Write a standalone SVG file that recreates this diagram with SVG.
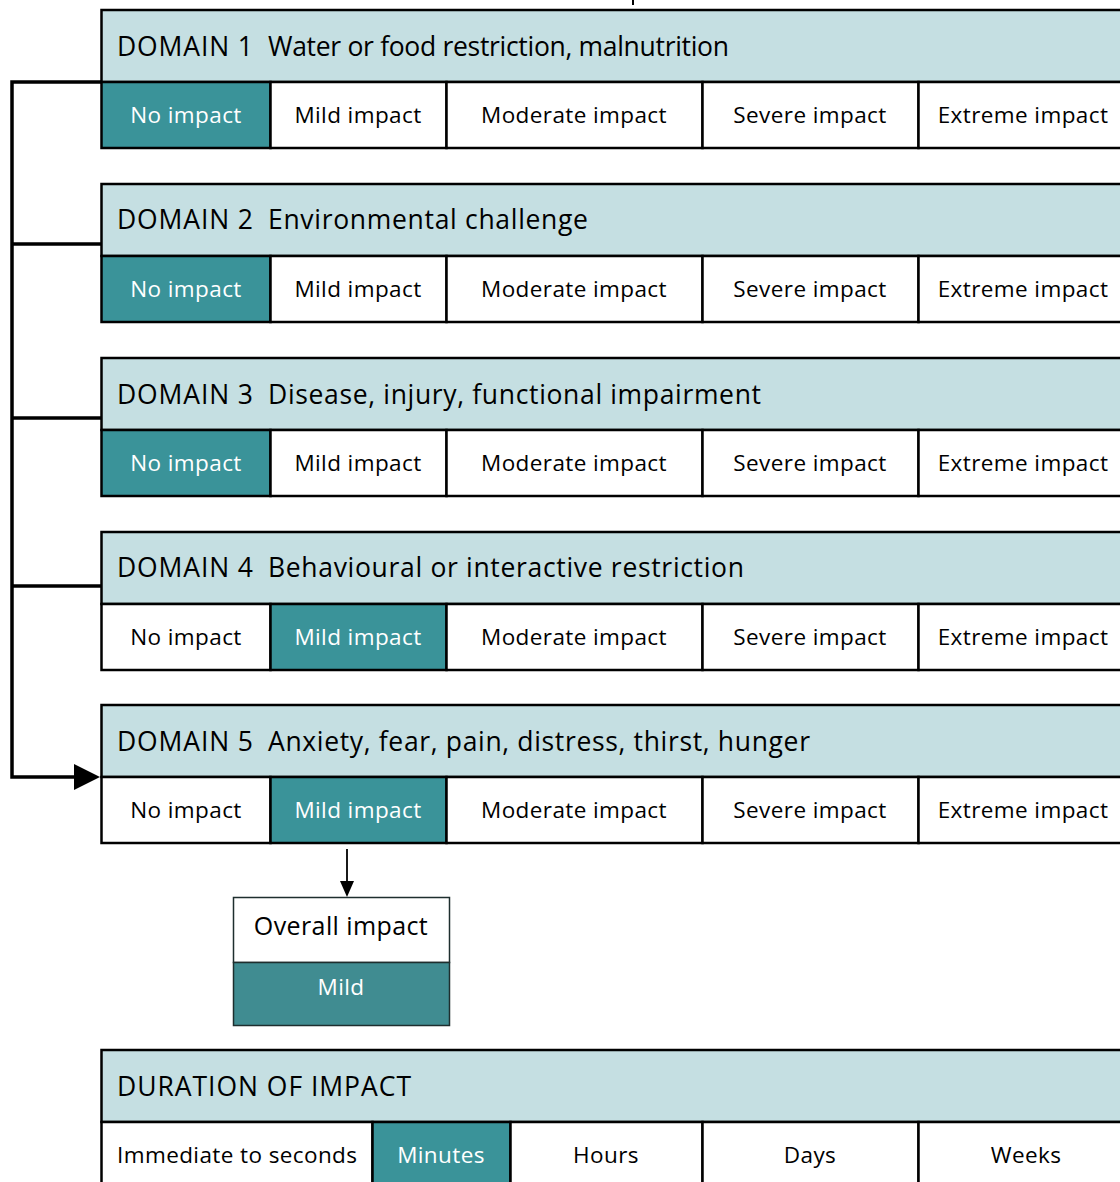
<svg xmlns="http://www.w3.org/2000/svg" width="1120" height="1182" viewBox="0 0 1120 1182">
<style>
.hdr{fill:#c5dfe2;stroke:#000;stroke-width:2.5}
.cell{fill:#fff;stroke:#000;stroke-width:2.5}
.sel{fill:#3a9399;stroke:#000;stroke-width:2.5}
.ht{font-family:"Open Sans","Noto Sans",sans-serif;font-size:26.5px;fill:#000}
.ct{font-family:"Open Sans","Noto Sans",sans-serif;font-size:22.5px;letter-spacing:0.4px;fill:#000;text-anchor:middle}
.ws{fill:#fff}
.con{fill:none;stroke:#000;stroke-width:3.5}
</style>
<line x1="633" y1="0" x2="633" y2="5" stroke="#000" stroke-width="2"/>
<g id="connectors">
<path class="con" d="M101,82 H12 V777 H74"/>
<path d="M74,764 L100,777 L74,790 Z" fill="#000"/>
<line x1="12" y1="244" x2="101" y2="244" stroke="#000" stroke-width="3.5"/>
<line x1="12" y1="418" x2="101" y2="418" stroke="#000" stroke-width="3.5"/>
<line x1="12" y1="586" x2="101" y2="586" stroke="#000" stroke-width="3.5"/>
<line x1="347" y1="849" x2="347" y2="882" stroke="#000" stroke-width="1.8"/>
<path d="M340,881 L347,897 L354,881 Z" fill="#000"/>
</g>
<g id="domain1">
<rect class="hdr" x="101.5" y="10" width="1030" height="72"/>
<text class="ht" y="56"><tspan x="117" textLength="136">DOMAIN 1</tspan><tspan x="268" textLength="461">Water or food restriction, malnutrition</tspan></text>
<rect class="sel" x="101.5" y="82" width="169" height="66"/>
<rect class="cell" x="270.5" y="82" width="176" height="66"/>
<rect class="cell" x="446.5" y="82" width="256" height="66"/>
<rect class="cell" x="702.5" y="82" width="216" height="66"/>
<rect class="cell" x="918.5" y="82" width="220" height="66"/>
<text class="ct ws" x="186" y="123">No impact</text>
<text class="ct" x="358" y="123">Mild impact</text>
<text class="ct" x="574" y="123">Moderate impact</text>
<text class="ct" x="810" y="123">Severe impact</text>
<text class="ct" x="1023" y="123">Extreme impact</text>
</g>
<g id="domain2">
<rect class="hdr" x="101.5" y="184" width="1030" height="72"/>
<text class="ht" y="229"><tspan x="117" textLength="136">DOMAIN 2</tspan><tspan x="268" textLength="320">Environmental challenge</tspan></text>
<rect class="sel" x="101.5" y="256" width="169" height="66"/>
<rect class="cell" x="270.5" y="256" width="176" height="66"/>
<rect class="cell" x="446.5" y="256" width="256" height="66"/>
<rect class="cell" x="702.5" y="256" width="216" height="66"/>
<rect class="cell" x="918.5" y="256" width="220" height="66"/>
<text class="ct ws" x="186" y="297">No impact</text>
<text class="ct" x="358" y="297">Mild impact</text>
<text class="ct" x="574" y="297">Moderate impact</text>
<text class="ct" x="810" y="297">Severe impact</text>
<text class="ct" x="1023" y="297">Extreme impact</text>
</g>
<g id="domain3">
<rect class="hdr" x="101.5" y="358" width="1030" height="72"/>
<text class="ht" y="404"><tspan x="117" textLength="136">DOMAIN 3</tspan><tspan x="268" textLength="493">Disease, injury, functional impairment</tspan></text>
<rect class="sel" x="101.5" y="430" width="169" height="66"/>
<rect class="cell" x="270.5" y="430" width="176" height="66"/>
<rect class="cell" x="446.5" y="430" width="256" height="66"/>
<rect class="cell" x="702.5" y="430" width="216" height="66"/>
<rect class="cell" x="918.5" y="430" width="220" height="66"/>
<text class="ct ws" x="186" y="471">No impact</text>
<text class="ct" x="358" y="471">Mild impact</text>
<text class="ct" x="574" y="471">Moderate impact</text>
<text class="ct" x="810" y="471">Severe impact</text>
<text class="ct" x="1023" y="471">Extreme impact</text>
</g>
<g id="domain4">
<rect class="hdr" x="101.5" y="532" width="1030" height="72"/>
<text class="ht" y="577"><tspan x="117" textLength="136">DOMAIN 4</tspan><tspan x="268" textLength="476">Behavioural or interactive restriction</tspan></text>
<rect class="cell" x="101.5" y="604" width="169" height="66"/>
<rect class="sel" x="270.5" y="604" width="176" height="66"/>
<rect class="cell" x="446.5" y="604" width="256" height="66"/>
<rect class="cell" x="702.5" y="604" width="216" height="66"/>
<rect class="cell" x="918.5" y="604" width="220" height="66"/>
<text class="ct" x="186" y="645">No impact</text>
<text class="ct ws" x="358" y="645">Mild impact</text>
<text class="ct" x="574" y="645">Moderate impact</text>
<text class="ct" x="810" y="645">Severe impact</text>
<text class="ct" x="1023" y="645">Extreme impact</text>
</g>
<g id="domain5">
<rect class="hdr" x="101.5" y="705" width="1030" height="72"/>
<text class="ht" y="751"><tspan x="117" textLength="136">DOMAIN 5</tspan><tspan x="268" textLength="542">Anxiety, fear, pain, distress, thirst, hunger</tspan></text>
<rect class="cell" x="101.5" y="777" width="169" height="66"/>
<rect class="sel" x="270.5" y="777" width="176" height="66"/>
<rect class="cell" x="446.5" y="777" width="256" height="66"/>
<rect class="cell" x="702.5" y="777" width="216" height="66"/>
<rect class="cell" x="918.5" y="777" width="220" height="66"/>
<text class="ct" x="186" y="818">No impact</text>
<text class="ct ws" x="358" y="818">Mild impact</text>
<text class="ct" x="574" y="818">Moderate impact</text>
<text class="ct" x="810" y="818">Severe impact</text>
<text class="ct" x="1023" y="818">Extreme impact</text>
</g>
<g id="overall">
<rect x="233.5" y="897.5" width="216" height="65" fill="#fff" stroke="#1e2e2e" stroke-width="1.5"/>
<rect x="233.5" y="962.5" width="216" height="63" fill="#408c91" stroke="#1e2e2e" stroke-width="1.5"/>
<text class="ct" x="341" y="935" style="font-size:25px">Overall impact</text>
<text class="ct ws" x="341" y="995">Mild</text>
</g>
<g id="duration">
<rect class="hdr" x="101.5" y="1050" width="1030" height="72"/>
<text class="ht" x="117" y="1096" textLength="294">DURATION OF IMPACT</text>
<rect class="cell" x="101.5" y="1122" width="271" height="80"/>
<rect class="sel" x="372.5" y="1122" width="138" height="80"/>
<rect class="cell" x="510.5" y="1122" width="192" height="80"/>
<rect class="cell" x="702.5" y="1122" width="216" height="80"/>
<rect class="cell" x="918.5" y="1122" width="220" height="80"/>
<text class="ct" x="117" y="1163" style="text-anchor:start">Immediate to seconds</text>
<text class="ct ws" x="441" y="1163">Minutes</text>
<text class="ct" x="606" y="1163">Hours</text>
<text class="ct" x="810" y="1163">Days</text>
<text class="ct" x="1026" y="1163">Weeks</text>
</g>
</svg>
